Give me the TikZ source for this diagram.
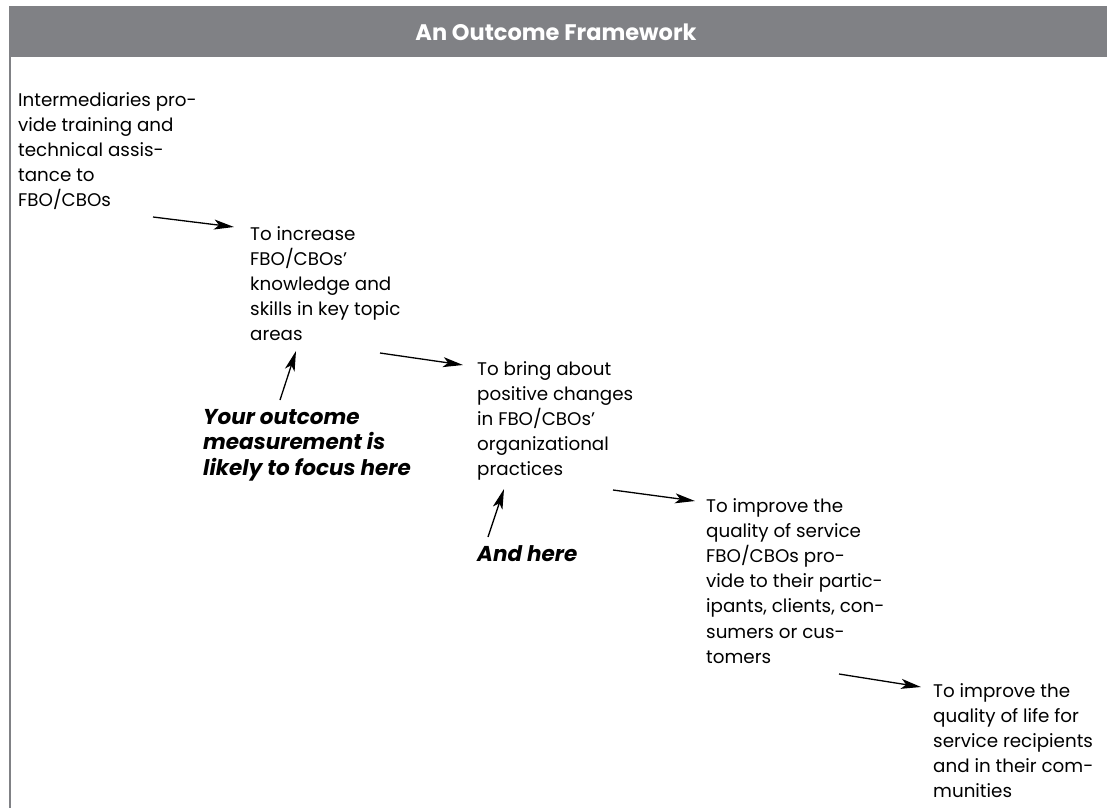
\documentclass[tikz,border=0pt]{standalone}
\usepackage{fontspec}
\setmainfont{Poppins}
\usetikzlibrary{arrows.meta}
\definecolor{bar}{RGB}{128,129,133}
\begin{document}
\begin{tikzpicture}[x=1pt,y=-1pt,
  txt/.style={anchor=north west,inner sep=0pt,align=left,font=\fontsize{18.3}{25.2}\selectfont},
  emph/.style={anchor=north west,inner sep=0pt,align=left,font=\fontsize{21.5}{25.5}\selectfont\bfseries\itshape},
  arr/.style={line width=1.3pt,-{Stealth[length=20pt,width=10pt,inset=5pt]}}]
\useasboundingbox (0,0) rectangle (1107,808);
\fill[bar] (9,6) rectangle (1107,57);
\draw[bar,line width=1.8pt] (9.8,57) -- (9.8,808);
\node[font=\fontsize{22.5}{26}\selectfont\bfseries,text=white,inner sep=0pt] (title) at (556,32) {An Outcome Framework};

\node[txt] (b1) at (18,92) {Intermediaries pro-\\vide training and\\technical assis-\\tance to\\FBO/CBOs};
\node[txt] (b2) at (250,226) {To increase\\FBO/CBOs'\\knowledge and\\skills in key topic\\areas};
\node[txt] (b3) at (477,361) {To bring about\\positive changes\\in FBO/CBOs'\\organizational\\practices};
\node[txt] (b4) at (706,498) {To improve the\\quality of service\\FBO/CBOs pro-\\vide to their partic-\\ipants, clients, con-\\sumers or cus-\\tomers};
\node[txt] (b5) at (933,683) {To improve the\\quality of life for\\service recipients\\and in their com-\\munities};
\node[emph] (n1) at (203,409) {Your outcome\\measurement is\\likely to focus here};
\node[emph] (n2) at (477,545) {And here};

\coordinate (a1s) at (153,217); \coordinate (a1e) at (234,227);
\coordinate (a2s) at (380,353); \coordinate (a2e) at (463,365);
\coordinate (a3s) at (613,490); \coordinate (a3e) at (695,501);
\coordinate (a4s) at (839,674); \coordinate (a4e) at (921,687);
\coordinate (u1s) at (280,400); \coordinate (u1e) at (296,351);
\coordinate (u2s) at (488,537); \coordinate (u2e) at (504,489);
\draw[arr] (a1s) -- (a1e);
\draw[arr] (a2s) -- (a2e);
\draw[arr] (a3s) -- (a3e);
\draw[arr] (a4s) -- (a4e);
\draw[arr] (u1s) -- (u1e);
\draw[arr] (u2s) -- (u2e);
\end{tikzpicture}
\end{document}
